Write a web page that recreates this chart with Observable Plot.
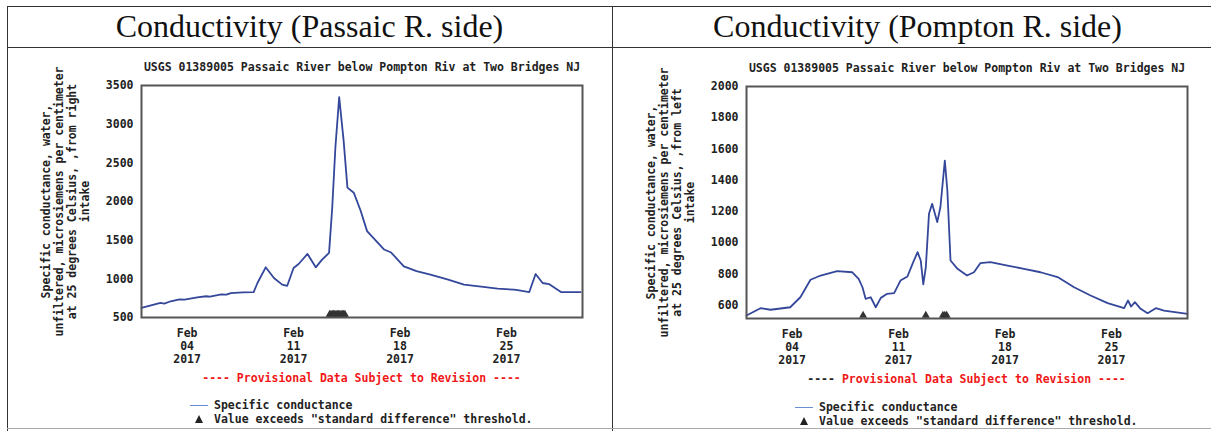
<!DOCTYPE html>
<html><head><meta charset="utf-8">
<script src="https://cdn.jsdelivr.net/npm/d3@7"></script>
<script src="https://cdn.jsdelivr.net/npm/@observablehq/plot@0.6"></script>
<style>
body{margin:0;background:#fff;}
#page{position:relative;width:1211px;height:431px;overflow:hidden;background:#fff;font-family:"DejaVu Sans Mono",monospace;}
.hl{position:absolute;height:0;border-top:1.5px solid #333;z-index:5;}
.vl{position:absolute;width:0;border-left:1.5px solid #333;z-index:5;}
.title{position:absolute;top:6px;height:41px;line-height:41px;text-align:center;font-family:"Liberation Serif","Times New Roman",serif;font-size:32px;color:#111;white-space:nowrap;}
.panel{position:absolute;top:0;}
.prov{position:absolute;font-weight:bold;font-size:11.5px;line-height:14px;color:#f01818;white-space:pre;transform:translateX(-50%);}
.leg{position:absolute;font-weight:bold;font-size:11.5px;line-height:14px;color:#222;white-space:pre;}
.legline{position:absolute;width:18px;height:0;border-top:1.5px solid #6b8dd6;}
.legtri{position:absolute;width:0;height:0;border-left:4.5px solid transparent;border-right:4.5px solid transparent;border-bottom:8px solid #222;}
</style></head>
<body>
<div id="page"></div>
<script>
// ---------- data ----------
const panelTitles = ["Conductivity (Passaic R. side)", "Conductivity (Pompton R. side)"];
const chartTitle = "USGS 01389005 Passaic River below Pompton Riv at Two Bridges NJ";
const yLabels = [
  "Specific conductance, water,\nunfiltered, microsiemens per centimeter\nat 25 degrees Celsius, ,from right\nintake",
  "Specific conductance, water,\nunfiltered, microsiemens per centimeter\nat 25 degrees Celsius, ,from left\nintake"
];
const xTickDates = ["2017-02-04 00", "2017-02-11 00", "2017-02-18 00", "2017-02-25 00"];
const xDomain = ["2017-02-01 00", "2017-03-02 00"];

const passaicYTicks = [500, 1000, 1500, 2000, 2500, 3000, 3500];
const passaicYDomain = [500, 3500];
const passaicTimes = [
  "2017-02-01 00","2017-02-01 12","2017-02-02 06","2017-02-02 12","2017-02-02 22","2017-02-03 12","2017-02-03 20",
  "2017-02-04 16","2017-02-05 06","2017-02-05 12","2017-02-06 06","2017-02-06 14","2017-02-06 21","2017-02-07 16",
  "2017-02-08 09","2017-02-08 15","2017-02-09 04","2017-02-09 17","2017-02-10 06","2017-02-10 14","2017-02-11 00",
  "2017-02-11 08","2017-02-11 22","2017-02-12 11","2017-02-12 21","2017-02-13 08","2017-02-13 13","2017-02-13 18",
  "2017-02-14 00","2017-02-14 07","2017-02-14 13","2017-02-14 23","2017-02-15 10","2017-02-15 20","2017-02-16 23",
  "2017-02-17 10","2017-02-18 06","2017-02-19 02","2017-02-20 00","2017-02-21 04","2017-02-22 05","2017-02-23 08",
  "2017-02-24 10","2017-02-25 12","2017-02-25 20","2017-02-26 12","2017-02-26 22","2017-02-27 09","2017-02-27 19",
  "2017-02-28 14","2017-03-01 21"
];
const passaicValues = [
  625, 650, 690, 680, 710, 735, 730,
  760, 775, 770, 800, 795, 816, 825,
  829, 946, 1149, 1010, 925, 910, 1140,
  1192, 1322, 1149, 1249, 1335, 1919, 2699,
  3350, 2786, 2179, 2114, 1877, 1617, 1379,
  1340, 1162, 1100, 1055, 990, 925, 900,
  873, 860, 850, 829, 1062, 946, 932,
  829, 829
];
const passaicFlags = [
  "2017-02-13 09","2017-02-13 11","2017-02-13 13","2017-02-13 15","2017-02-13 17","2017-02-13 19",
  "2017-02-13 21","2017-02-13 23","2017-02-14 01","2017-02-14 03","2017-02-14 05","2017-02-14 07","2017-02-14 09"
];

const pomptonYTicks = [600, 800, 1000, 1200, 1400, 1600, 1800, 2000];
const pomptonYDomain = [515, 2000];
const pomptonTimes = [
  "2017-02-01 00","2017-02-01 22","2017-02-02 14","2017-02-03 21","2017-02-04 13","2017-02-05 05",
  "2017-02-05 21","2017-02-06 23","2017-02-07 23","2017-02-08 09","2017-02-08 15","2017-02-08 20",
  "2017-02-09 04","2017-02-09 12","2017-02-09 20","2017-02-10 06","2017-02-10 17","2017-02-11 03",
  "2017-02-11 14","2017-02-11 22","2017-02-12 06","2017-02-12 11","2017-02-12 15","2017-02-12 19",
  "2017-02-13 00","2017-02-13 05","2017-02-13 13","2017-02-13 18","2017-02-14 01","2017-02-14 05",
  "2017-02-14 10","2017-02-14 21","2017-02-15 12","2017-02-15 23","2017-02-16 09","2017-02-17 01",
  "2017-02-18 04","2017-02-19 06","2017-02-20 08","2017-02-21 11","2017-02-22 13","2017-02-23 15",
  "2017-02-24 18","2017-02-25 20","2017-02-26 02","2017-02-26 07","2017-02-26 13","2017-02-26 22",
  "2017-02-27 09","2017-02-27 22","2017-02-28 11","2017-03-02 00"
];
const pomptonValues = [
  534, 581, 571, 587, 651, 763,
  790, 818, 811, 769, 715, 641,
  651, 587, 647, 673, 677, 758,
  784, 865, 940, 886, 733, 843,
  1185, 1249, 1132, 1227, 1526, 1334,
  886, 833, 790, 811, 869, 876,
  854, 833, 811, 780, 715, 662,
  613, 581, 630, 592, 620, 577,
  549, 581, 566, 545
];
const pomptonFlags = ["2017-02-08 16", "2017-02-12 19", "2017-02-13 22", "2017-02-14 01", "2017-02-14 04"];

// ---------- drawing ----------
const parse = d3.utcParse("%Y-%m-%d %H");
const page = document.getElementById("page");
const FONT = '"DejaVu Sans Mono", monospace';

function el(cls, style, html){
  const d = document.createElement("div");
  d.className = cls;
  Object.assign(d.style, style);
  if (html != null) d.innerHTML = html;
  page.appendChild(d);
  return d;
}

function panel(cfg){
  const data = cfg.times.map((t, i) => ({t: parse(t), v: cfg.values[i]}));
  const flags = cfg.flags.map(t => ({t: parse(t), v: cfg.yDomain[0]}));
  const svg = Plot.plot({
    width: 605, height: 431,
    marginLeft: 141, marginRight: 23, marginTop: cfg.top, marginBottom: 431 - cfg.bottom,
    style: {fontFamily: FONT, fontSize: "11.5px", fontWeight: "bold", color: "#222", background: "transparent", overflow: "visible"},
    x: {type: "utc", domain: xDomain.map(parse)},
    y: {domain: cfg.yDomain},
    marks: [
      Plot.axisY({ticks: cfg.yTicks, tickSize: 0, tickPadding: 8, label: null, tickFormat: d => String(d), fontWeight: "bold"}),
      Plot.axisX({ticks: xTickDates.map(parse), tickSize: 0, tickPadding: 10, label: null,
        tickFormat: d3.utcFormat("%b\n%d\n%Y"), lineHeight: 1.13, fontWeight: "bold"}),
      Plot.line(data, {x: "t", y: "v", stroke: "#34479a", strokeWidth: 1.8}),
      Plot.dot(flags, {x: "t", y: "v", symbol: "triangle", r: 3, fill: "#333", stroke: "none", dy: -3}),
      Plot.frame({stroke: "#555", strokeWidth: 2}),
      Plot.text([chartTitle], {frameAnchor: "top", dy: -18, lineAnchor: "middle", text: d => d, fontWeight: "bold", fill: "#222"}),
      Plot.text([cfg.yLabel], {frameAnchor: "left", dx: -76, rotate: -90, textAnchor: "middle", lineAnchor: "middle",
        text: d => d, lineHeight: 1.13, fontWeight: "bold", fill: "#222"})
    ]
  });
  const wrap = el("panel", {left: cfg.offset + "px"});
  wrap.appendChild(svg);

  const cx = cfg.offset + (141 + 582) / 2;
  el("title", {left: (cfg.offset === 0 ? 7 : 612) + "px", width: (cfg.offset === 0 ? 605 : 611) + "px"}, cfg.title);
  el("prov", {left: cx + "px", top: (cfg.provY - 7) + "px"}, cfg.provHtml);
  el("legline", {left: (cfg.offset + 190) + "px", top: (cfg.legY) + "px"});
  el("leg", {left: (cfg.offset + 214) + "px", top: (cfg.legY - 7) + "px"}, "Specific conductance");
  el("legtri", {left: (cfg.offset + 195) + "px", top: (cfg.legY + 10) + "px"});
  el("leg", {left: (cfg.offset + 214) + "px", top: (cfg.legY + 7) + "px"}, 'Value exceeds "standard difference" threshold.');
}

panel({offset: 0, title: panelTitles[0], yLabel: yLabels[0], times: passaicTimes, values: passaicValues,
  flags: passaicFlags, yTicks: passaicYTicks, yDomain: passaicYDomain, top: 85, bottom: 317,
  provY: 378, legY: 405,
  provHtml: "---- Provisional Data Subject to Revision ----"});
panel({offset: 605, title: panelTitles[1], yLabel: yLabels[1], times: pomptonTimes, values: pomptonValues,
  flags: pomptonFlags, yTicks: pomptonYTicks, yDomain: pomptonYDomain, top: 86, bottom: 318,
  provY: 379, legY: 407,
  provHtml: '<span style="color:#222">---- </span>Provisional Data Subject to Revision ----'});

// table borders
el("hl", {left: "7px", top: "6px", width: "1204px"});
el("hl", {left: "7px", top: "47px", width: "1204px"});
el("vl", {left: "7px", top: "6px", height: "425px"});
el("vl", {left: "612px", top: "6px", height: "425px"});
el("hl", {left: "7px", top: "428px", width: "1204px", borderTopColor: "#aaa"});
</script>
</body></html>
